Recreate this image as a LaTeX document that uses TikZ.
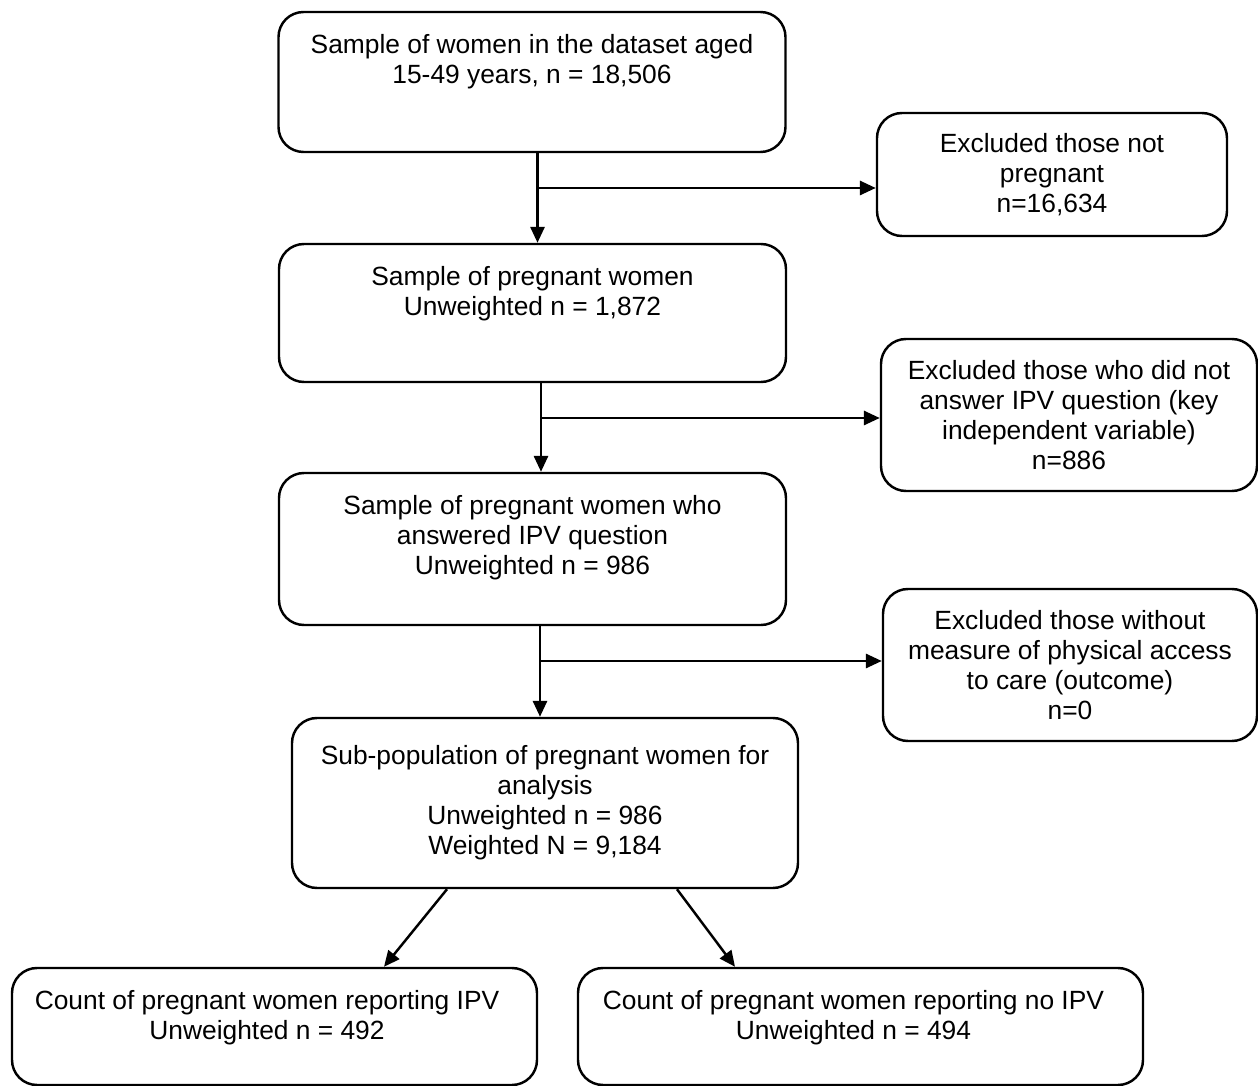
\documentclass[tikz,border=0pt]{standalone}
\usepackage{fontspec}
\setmainfont{Liberation Sans}
\usepackage{tikz}
\usetikzlibrary{arrows.meta, positioning, calc}

\begin{document}
\begin{tikzpicture}[
    >={Triangle[length=9pt, width=8pt]},
    box/.style={
        draw=black,
        line width=1.4pt,
        rounded corners=0.5cm,
        minimum width=10.14cm,
    },
    excl/.style={
        draw=black,
        line width=1.4pt,
        rounded corners=0.5cm,
        align=center,
        font=\fontsize{15pt}{17.1pt}\selectfont,
        minimum height=3.04cm,
    },
    txt/.style={
        inner sep=0pt,
        align=center,
        font=\fontsize{15pt}{17.1pt}\selectfont,
    },
    arr/.style={
        ->,
        line width=1.4pt,
    },
]
\useasboundingbox (0,0) rectangle (25.16,-21.72);

% --- Main column, text sits at the top of each box ---
\node[box, minimum height=2.8cm] (sample) at (10.64,-1.64) {};
\node[txt, below=0.47cm of sample.north] (sampletxt) {
    Sample of women in the dataset aged\\
    15-49 years, n = 18,506
};

\node[box, minimum height=2.76cm] (preg) at (10.65,-6.26) {};
\node[txt, below=0.47cm of preg.north] (pregtxt) {
    Sample of pregnant women\\
    Unweighted n = 1,872
};

\node[box, minimum height=3.04cm] (answered) at (10.65,-10.98) {};
\node[txt, below=0.47cm of answered.north] (answeredtxt) {
    Sample of pregnant women who\\
    answered IPV question\\
    Unweighted n = 986
};

\node[box, txt, inner sep=0pt, minimum width=10.12cm, minimum height=3.4cm] (subpop) at (10.9,-16.06) {
    Sub-population of pregnant women for\\
    analysis\\
    Unweighted n = 986\\
    Weighted N = 9,184
};

% --- Exclusions on the right, placed by coordinates ---
\node[excl, minimum width=7.0cm, minimum height=2.46cm] (notpreg) at (21.04,-3.49) {
    Excluded those not\\
    pregnant\\
    n=16,634
};
\node[excl, minimum width=7.52cm] (noipv) at (21.38,-8.3) {
    Excluded those who did not\\
    answer IPV question (key\\
    independent variable)\\
    n=886
};
\node[excl, minimum width=7.48cm] (noaccess) at (21.4,-13.3) {
    Excluded those without\\
    measure of physical access\\
    to care (outcome)\\
    n=0
};

% --- Bottom row ---
\node[box, minimum width=10.5cm, minimum height=2.34cm] (ipv) at (5.49,-20.53) {};
\node[txt, below=0.47cm of ipv.north, xshift=-0.15cm] (ipvtxt) {
    Count of pregnant women reporting IPV\\
    Unweighted n = 492
};
\node[box, minimum width=11.3cm, minimum height=2.34cm] (noipvcount) at (17.21,-20.53) {};
\node[txt, below=0.47cm of noipvcount.north, xshift=-0.14cm] (noipvcounttxt) {
    Count of pregnant women reporting no IPV\\
    Unweighted n = 494
};

% --- Split points on the trunk ---
\coordinate (split1) at (10.75,-3.76);
\coordinate (split2) at (10.82,-8.36);
\coordinate (split3) at (10.8,-13.22);

\draw[arr] (sample.south -| split1) -- (split1 |- preg.north);
\draw[arr] (split1) -- (split1 -| notpreg.west);
\draw[arr] (preg.south -| split2) -- (split2 |- answered.north);
\draw[arr] (split2) -- (split2 -| noipv.west);
\draw[arr] (answered.south -| split3) -- (split3 |- subpop.north);
\draw[arr] (split3) -- (split3 -| noaccess.west);

% Diagonal arrows down to the two counts
\draw[arr] ([xshift=-1.96cm]subpop.south) -- ([xshift=2.19cm]ipv.north);
\draw[arr] ([xshift=2.64cm]subpop.south) -- ([xshift=-2.51cm]noipvcount.north);

\end{tikzpicture}
\end{document}
